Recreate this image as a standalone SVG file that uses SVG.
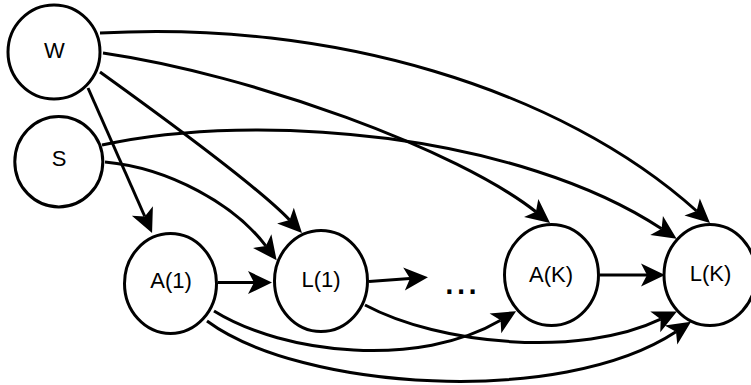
<svg xmlns="http://www.w3.org/2000/svg" width="751" height="385" viewBox="0 0 751 385">
  <style>
    .node { fill: #ffffff; stroke: #000000; stroke-width: 3; }
    .label { font-family: "Liberation Sans", Arial, sans-serif; font-size: 22px; fill: #000000; text-anchor: middle; }
    .edge { fill: none; stroke: #000000; stroke-width: 3; marker-end: url(#arrow); }
  </style>
  <defs>
    <marker id="arrow" markerUnits="userSpaceOnUse" viewBox="0 -12 24 24" refX="6" refY="0" markerWidth="24" markerHeight="24" orient="auto" overflow="visible">
      <path d="M0,-11.5 L24,0 L0,11.5 L6,0 Z" fill="#000000"/>
    </marker>
  </defs>
  <rect width="751" height="385" fill="#ffffff"/>

  <g id="node-W">
    <ellipse class="node" cx="54" cy="52" rx="46" ry="47"/>
    <text class="label" x="54.5" y="58.3">W</text>
  </g>
  <g id="node-S">
    <ellipse class="node" cx="58.8" cy="161.7" rx="44" ry="45.2"/>
    <text class="label" x="59.2" y="166">S</text>
  </g>
  <g id="node-A1">
    <ellipse class="node" cx="170.5" cy="283.5" rx="46" ry="50"/>
    <text class="label" x="171" y="288">A(1)</text>
  </g>
  <g id="node-L1">
    <ellipse class="node" cx="321" cy="281" rx="46.5" ry="50.5"/>
    <text class="label" x="321" y="287">L(1)</text>
  </g>
  <g id="node-AK">
    <ellipse class="node" cx="551.5" cy="275" rx="47" ry="50.5"/>
    <text class="label" x="551" y="281.7">A(K)</text>
  </g>
  <g id="node-LK">
    <ellipse class="node" cx="710" cy="275" rx="46" ry="50.5"/>
    <text class="label" x="710.5" y="281">L(K)</text>
  </g>
  <g id="ellipsis">
    <text x="443.5" y="294" font-family="'Liberation Sans', Arial, sans-serif" font-size="42" fill="#000000">...</text>
  </g>

  <g id="connectors">
    <path class="edge" d="M88,88 L144.8,216.5"/>
    <path class="edge" d="M100,72 Q255,183.5 289.6,220"/>
    <path class="edge" d="M105,162 C170,168 235,205 265.8,245.9"/>
    <path class="edge" d="M103,53 C253,75 457.4,149.8 535.9,211.8"/>
    <path class="edge" d="M100,33 C330,20 560,88 696.6,211"/>
    <path class="edge" d="M102,145 C260,110 520,135 661.6,228.8"/>
    <path class="edge" d="M369,281.5 L410,278.5"/>
    <path class="edge" d="M218,282.5 L254,282.5"/>
    <path class="edge" d="M600,275 L647,275"/>
    <path class="edge" d="M214,311 C285,355 420,368 500.6,320.3"/>
    <path class="edge" d="M365,305 C440,345 580,358 660.7,319.2"/>
    <path class="edge" d="M207,321 C300,390 560,408 676,331.7"/>
  </g>
</svg>
